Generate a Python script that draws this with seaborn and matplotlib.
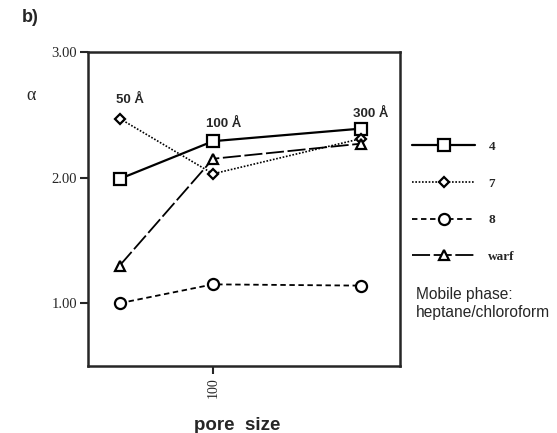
import numpy as np
import pandas as pd
import matplotlib
matplotlib.use("Agg")
import matplotlib.pyplot as plt
import seaborn as sns

pore_sizes = [50, 100, 300]
pore_labels = ["50 Å", "100 Å", "300 Å"]
series_names = ["4", "7", "8", "warf"]
alpha_4 = [1.99, 2.29, 2.39]
alpha_7 = [2.47, 2.03, 2.31]
alpha_8 = [1.00, 1.15, 1.14]
alpha_warf = [1.30, 2.15, 2.27]
y_ticks = [1.00, 2.00, 3.00]
x_ticks = [100]

sns.set_style("ticks")
plt.rcParams['font.family'] = ['DejaVu Sans']

df = pd.DataFrame({
    "pore": pore_sizes * 4,
    "alpha": alpha_4 + alpha_7 + alpha_8 + alpha_warf,
    "series": sum([[s] * 3 for s in series_names], []),
})

fig = plt.figure(figsize=(5.57, 4.33), dpi=100)
ax = fig.add_axes([88/557, 67/433, 312/557, 314/433])

styles = {
    "4": dict(marker="s", ls="-", ms=8, lw=1.6),
    "7": dict(marker="D", ls=(0, (1, 1)), ms=5.5, lw=1.2),
    "8": dict(marker="o", ls=(0, (3, 2)), ms=8, lw=1.3),
    "warf": dict(marker="^", ls=(0, (10, 2)), ms=7, lw=1.3),
}
handles = []
for s in series_names:
    st = styles[s]
    sub = df[df.series == s]
    sns.lineplot(data=sub, x="pore", y="alpha", ax=ax, color="black",
                 marker=st["marker"], markersize=st["ms"], linestyle=st["ls"],
                 linewidth=st["lw"], markerfacecolor="white",
                 markeredgecolor="black", markeredgewidth=1.6,
                 legend=False, errorbar=None, sort=False)
    handles.append(plt.Line2D([], [], color="black", marker=st["marker"],
                              markersize=st["ms"], linestyle=st["ls"],
                              linewidth=st["lw"], markerfacecolor="white",
                              markeredgecolor="black", markeredgewidth=1.6))

ax.set_xscale("log")
ax.set_xlim(39.5, 401)
ax.set_ylim(0.5, 3.0)
ax.set_xticks(x_ticks)
ax.set_xticklabels([str(v) for v in x_ticks], rotation=90,
                   family="Liberation Serif", fontsize=10)
ax.xaxis.set_minor_locator(matplotlib.ticker.NullLocator())
ax.set_yticks(y_ticks)
ax.set_yticklabels([f"{v:.2f}" for v in y_ticks], family="Liberation Serif",
                   fontsize=10.5)
ax.tick_params(axis="both", length=6, width=1.5, direction="out", pad=2)
for sp in ax.spines.values():
    sp.set_linewidth(1.8)
    sp.set_visible(True)
ax.set_xlabel("")
ax.set_ylabel("")

# pore size annotations
label_pos = [(54, 2.62), (108, 2.43), (322, 2.51)]
for (x, yy), lab in zip(label_pos, pore_labels):
    ax.text(x, yy, lab, ha="center", va="center", fontsize=9.5,
            family="Liberation Sans", fontweight="bold")

fig.text(22/557, 1 - 17/433, "b)", fontsize=13, fontweight="bold",
         family="Liberation Sans", ha="left", va="center")
fig.text(31/557, 1 - 96/433, "α", fontsize=13, family="Liberation Serif",
         ha="center", va="center")
fig.text(237/557, 1 - 425/433, "pore  size", fontsize=13.5, fontweight="bold",
         family="Liberation Sans", ha="center", va="center")

leg = fig.legend(handles, series_names, loc="upper left",
                 bbox_to_anchor=(400/557, 1 - 129/433), frameon=False,
                 handlelength=4.8, labelspacing=1.85, handletextpad=1.0,
                 prop={"family": "Liberation Serif", "size": 9.5,
                       "weight": "bold"})
fig.text(416/557, 1 - 295/433, "Mobile phase:", fontsize=11.2,
         family="Liberation Sans", ha="left", va="center")
fig.text(416/557, 1 - 312/433, "heptane/chloroform", fontsize=11.2,
         family="Liberation Sans", ha="left", va="center")

fig.savefig("out.png", dpi=100)
